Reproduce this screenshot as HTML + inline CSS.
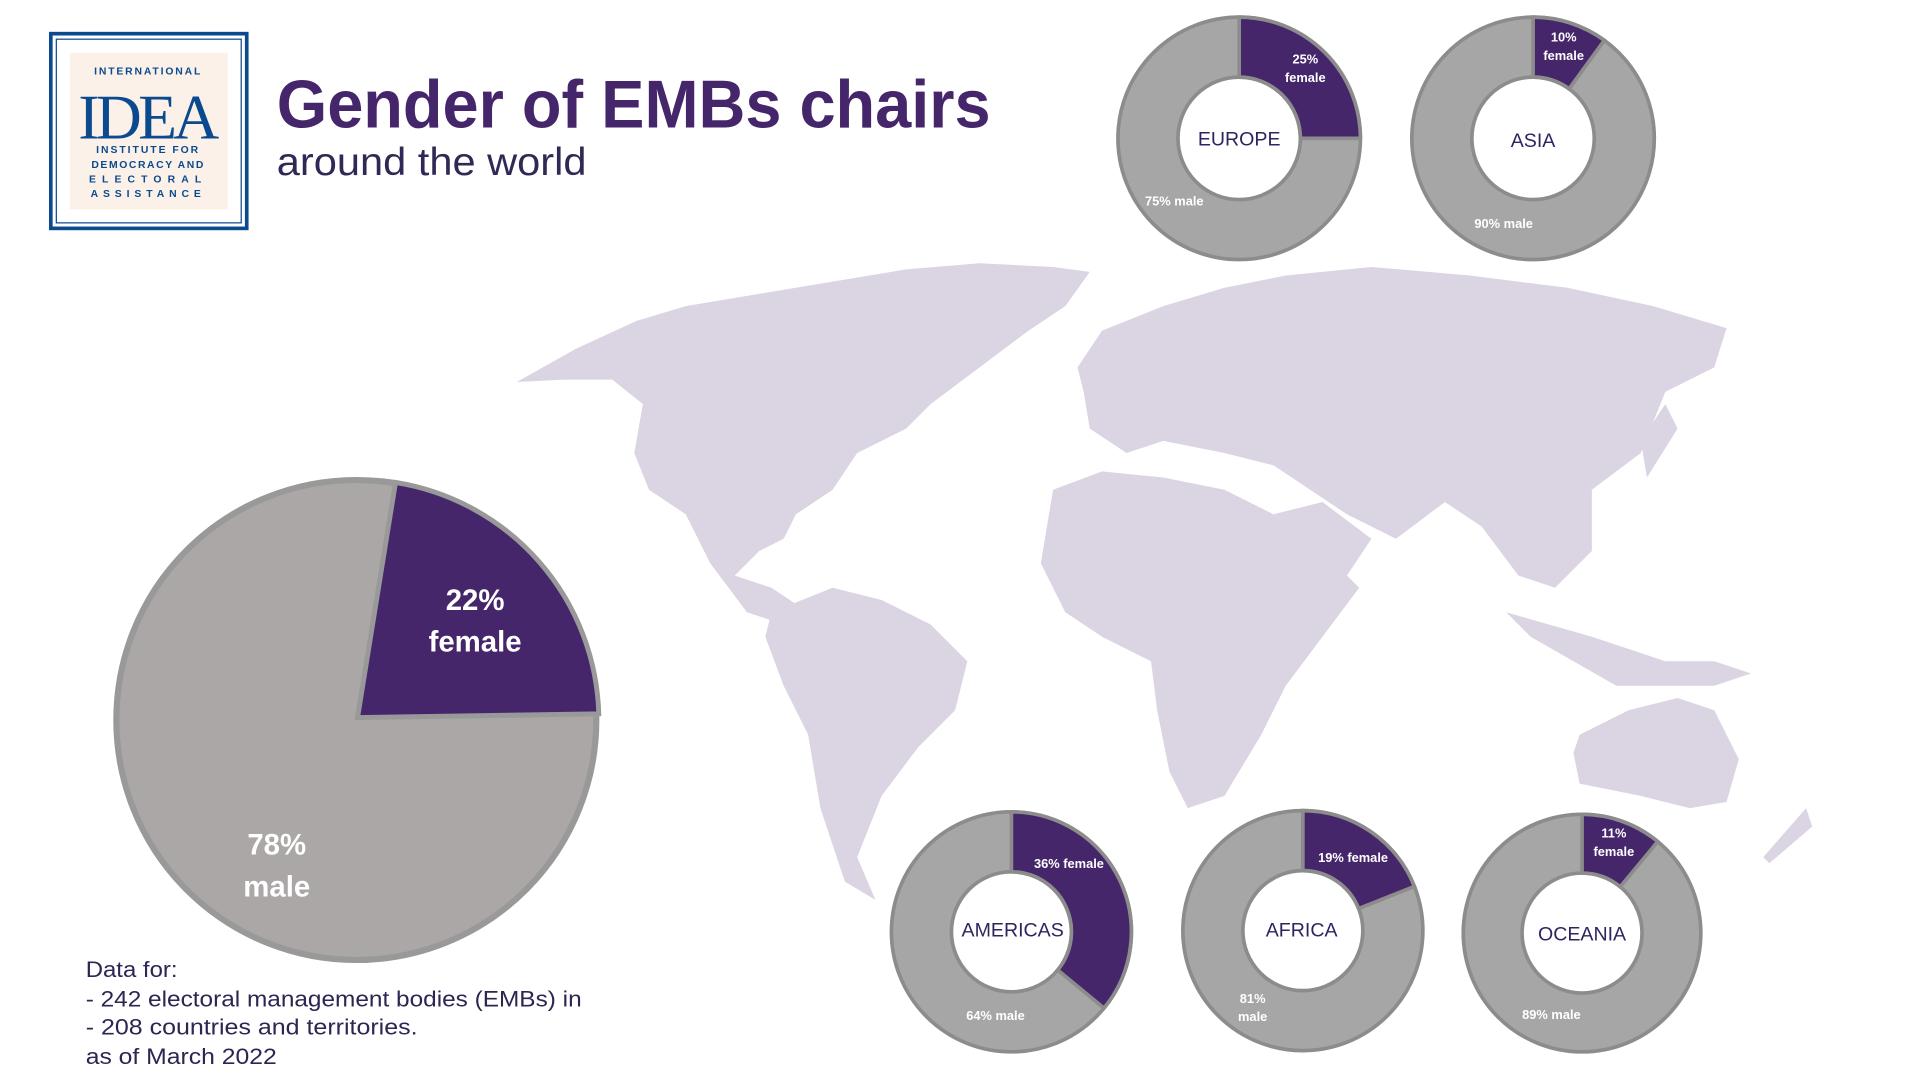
<!DOCTYPE html>
<html><head><meta charset="utf-8"><style>
html,body{margin:0;padding:0;background:#fff;width:1920px;height:1080px;overflow:hidden}
svg{display:block}
text{font-family:"Liberation Sans",sans-serif}
</style></head><body>
<svg width="1920" height="1080" viewBox="0 0 1568 882" xmlns="http://www.w3.org/2000/svg">
<rect width="1568" height="882" fill="#fff"/>
<!-- map -->
<g fill="#dbd4e2">
<polygon points="422,312 470,285 520,262 560,250 620,240 680,230 740,220 800,215 860,218 890,222 870,250 840,270 800,300 760,330 740,350 700,370 680,400 650,420 640,440 620,450 600,470 630,480 660,500 640,510 610,500 580,460 560,420 530,400 518,370 525,330 500,310 460,310"/>
<polygon points="630,500 680,480 720,490 760,510 790,540 780,580 750,610 720,650 700,700 715,735 690,720 670,660 660,600 640,560 625,520"/>
<polygon points="880,300 900,270 950,250 1000,235 1050,225 1120,218 1200,225 1280,235 1350,250 1410,268 1400,300 1360,320 1340,370 1300,400 1300,450 1270,480 1240,470 1210,430 1180,410 1140,440 1100,420 1070,400 1040,380 1000,370 950,360 920,370 890,350 885,320"/>
<polygon points="860,400 900,385 950,390 1000,400 1040,420 1080,450 1110,480 1080,520 1050,560 1030,600 1000,650 970,660 955,630 945,580 940,540 900,520 870,500 850,460"/>
<polygon points="1040,420 1080,410 1120,440 1100,470 1080,450"/>
<polygon points="1230,500 1300,520 1360,540 1400,540 1430,550 1400,560 1320,560 1250,520"/>
<polygon points="1290,600 1330,580 1370,570 1400,580 1420,620 1410,655 1380,660 1340,650 1290,640 1285,615"/>
<polygon points="1440,700 1475,660 1480,675 1445,705"/>
<polygon points="1340,360 1360,330 1370,350 1345,390"/>
</g>
<!-- logo -->
<rect x="41.5" y="27.5" width="160" height="159" fill="#fff" stroke="#0b4a8f" stroke-width="3"/>
<rect x="46" y="32" width="151" height="150" fill="none" stroke="#0b4a8f" stroke-width="1"/>
<rect x="57" y="43" width="129" height="128" fill="#fbf1e8"/>
<text x="121" y="61" font-size="8.5" font-weight="bold" fill="#0b4a8f" text-anchor="middle" letter-spacing="1.5">INTERNATIONAL</text>
<text x="120" y="113" style="font-family:'Liberation Serif',serif;font-size:52px" fill="#0b4a8f" text-anchor="middle" letter-spacing="-3">IDEA</text>
<text x="121" y="125" font-size="8.5" font-weight="bold" fill="#0b4a8f" text-anchor="middle" letter-spacing="1.6">INSTITUTE FOR</text>
<text x="121" y="137" font-size="8.5" font-weight="bold" fill="#0b4a8f" text-anchor="middle" letter-spacing="1.3">DEMOCRACY AND</text>
<text x="121" y="149" font-size="8.5" font-weight="bold" fill="#0b4a8f" text-anchor="middle" letter-spacing="5">ELECTORAL</text>
<text x="121" y="161" font-size="8.5" font-weight="bold" fill="#0b4a8f" text-anchor="middle" letter-spacing="4">ASSISTANCE</text>
<!-- title -->
<text x="226" y="104" font-size="55" font-weight="bold" fill="#45266b" textLength="583" lengthAdjust="spacingAndGlyphs">Gender of EMBs chairs</text>
<text x="226" y="143" font-size="32" fill="#2f2a55" textLength="253" lengthAdjust="spacingAndGlyphs">around the world</text>
<!-- big pie -->
<circle cx="291" cy="588" r="196" fill="#aaa7a6" stroke="#999" stroke-width="5"/>
<path d="M292,586 L323,394 A197 197 0 0 1 489,583 Z" fill="#45266b" stroke="#999" stroke-width="4"/>
<g font-size="24" font-weight="bold" fill="#fff" text-anchor="middle">
<text x="388" y="498">22%</text><text x="388" y="532">female</text>
<text x="226" y="698">78%</text><text x="226" y="732">male</text>
</g>
<!-- donuts -->
<g stroke="#8c8c8c" stroke-width="3">
<circle cx="1012" cy="113" r="74.5" fill="none" stroke="#a6a6a6" stroke-width="49"/>
<circle cx="1012" cy="113" r="99" fill="none"/><circle cx="1012" cy="113" r="50" fill="none"/>
<path d="M1012,14 A99 99 0 0 1 1111,113 L1062,113 A50 50 0 0 0 1012,63 Z" fill="#45266b"/>
<circle cx="1252" cy="113" r="74.5" fill="none" stroke="#a6a6a6" stroke-width="49"/>
<circle cx="1252" cy="113" r="99" fill="none"/><circle cx="1252" cy="113" r="50" fill="none"/>
<path d="M1252,14 A99 99 0 0 1 1310.2,32.9 L1281.4,72.5 A50 50 0 0 0 1252,63 Z" fill="#45266b"/>
<circle cx="826" cy="761" r="73.5" fill="none" stroke="#a6a6a6" stroke-width="49"/>
<circle cx="826" cy="761" r="98" fill="none"/><circle cx="826" cy="761" r="49" fill="none"/>
<path d="M826,663 A98 98 0 0 1 901.6,823.3 L863.8,792.2 A49 49 0 0 0 826,712 Z" fill="#45266b"/>
<circle cx="1064" cy="760" r="73.5" fill="none" stroke="#a6a6a6" stroke-width="49"/>
<circle cx="1064" cy="760" r="98" fill="none"/><circle cx="1064" cy="760" r="49" fill="none"/>
<path d="M1064,662 A98 98 0 0 1 1155.1,723.9 L1109.6,742 A49 49 0 0 0 1064,711 Z" fill="#45266b"/>
<circle cx="1292" cy="762" r="73" fill="none" stroke="#a6a6a6" stroke-width="48"/>
<circle cx="1292" cy="762" r="97" fill="none"/><circle cx="1292" cy="762" r="49" fill="none"/>
<path d="M1292,665 A97 97 0 0 1 1353.8,687.3 L1323.2,724.2 A49 49 0 0 0 1292,713 Z" fill="#45266b"/>
</g>
<g font-size="10.5" font-weight="bold" fill="#fff" text-anchor="middle">
<text x="1066" y="52">25%</text><text x="1066" y="67">female</text><text x="959" y="168">75% male</text>
<text x="1277" y="34">10%</text><text x="1277" y="49">female</text><text x="1228" y="186">90% male</text>
<text x="873" y="709">36% female</text><text x="813" y="833">64% male</text>
<text x="1105" y="704">19% female</text><text x="1023" y="819">81%</text><text x="1023" y="834">male</text>
<text x="1318" y="684">11%</text><text x="1318" y="699">female</text><text x="1267" y="832">89% male</text>
</g>
<g font-size="16" fill="#2e2560" text-anchor="middle">
<text x="1012" y="119">EUROPE</text><text x="1252" y="120">ASIA</text>
<text x="827" y="765">AMERICAS</text><text x="1063" y="765">AFRICA</text><text x="1292" y="768">OCEANIA</text>
</g>
<!-- footnote -->
<g font-size="18" fill="#2d2552">
<text x="70" y="798" textLength="75" lengthAdjust="spacingAndGlyphs">Data for:</text>
<text x="70" y="822" textLength="405" lengthAdjust="spacingAndGlyphs">- 242 electoral management bodies (EMBs) in</text>
<text x="70" y="845" textLength="271" lengthAdjust="spacingAndGlyphs">- 208 countries and territories.</text>
<text x="70" y="869" textLength="156" lengthAdjust="spacingAndGlyphs">as of March 2022</text>
</g>
</svg>
</body></html>
